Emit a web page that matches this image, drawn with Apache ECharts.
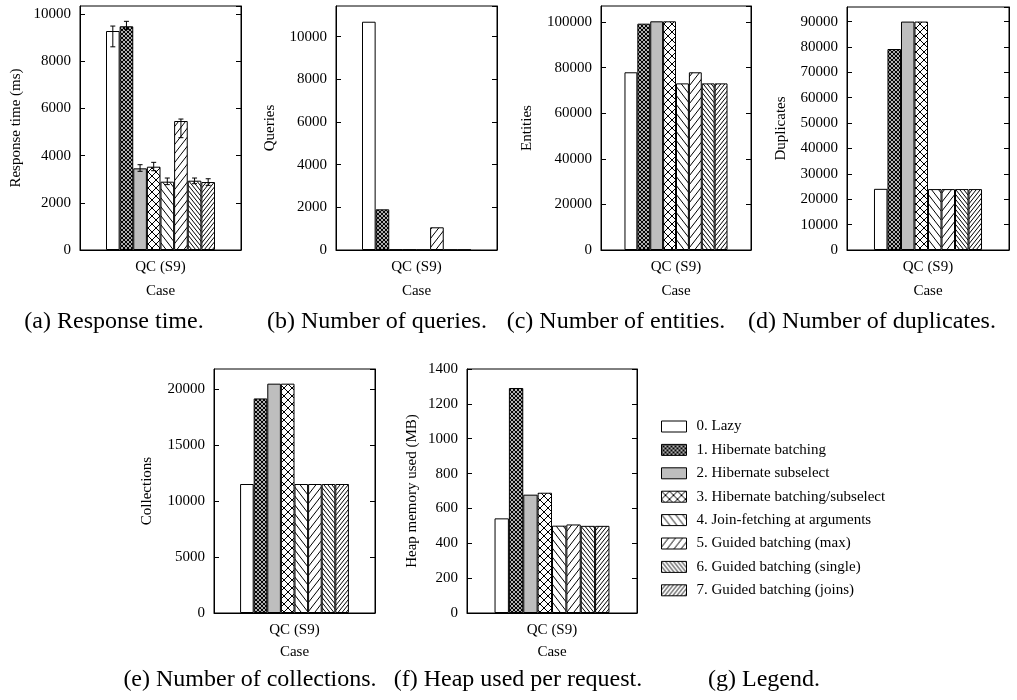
<!DOCTYPE html>
<html><head><meta charset="utf-8">
<script src="https://cdn.jsdelivr.net/npm/echarts@6/dist/echarts.min.js"></script>
<style>html,body{margin:0;padding:0;background:#fff}#c{width:1017px;height:700px}</style>
</head><body><div id="c"></div>
<script>
// ---------- data ----------
const seriesNames = ['0. Lazy', '1. Hibernate batching', '2. Hibernate subselect', '3. Hibernate batching/subselect',
  '4. Join-fetching at arguments', '5. Guided batching (max)', '6. Guided batching (single)', '7. Guided batching (joins)'];
const category = ['QC (S9)'];
const responseTime = [9280, 9480, 3460, 3530, 2895, 5466, 2937, 2880];
const responseErrLow = [8610, 9350, 3335, 3360, 2770, 4760, 2810, 2740];
const responseErrHigh = [9490, 9690, 3615, 3715, 3050, 5550, 3050, 3020];
const queries = [10700, 1906, 15, 15, 5, 1064, 10, 10];
const entities = [77940, 99270, 100300, 100300, 73080, 77940, 73080, 73080];
const duplicates = [24100, 79200, 90000, 90000, 24000, 24000, 24000, 24000];
const collections = [11520, 19160, 20480, 20480, 11520, 11520, 11520, 11520];
const heap = [543, 1291, 679, 690, 501, 508, 500, 500];
const captions = ['(a) Response time.', '(b) Number of queries.', '(c) Number of entities.', '(d) Number of duplicates.',
  '(e) Number of collections.', '(f) Heap used per request.', '(g) Legend.'];

// ---------- patterns ----------
function pat(type) {
  const dims = {fineCross:[4,4], bigCross:[8,8], back:[7,9], fwd:[7,9], backDense:[4,5], fwdDense:[4,5]};
  const [w, h] = dims[type];
  const c = document.createElement('canvas');
  c.width = w; c.height = h;
  const g = c.getContext('2d');
  g.fillStyle = '#fff'; g.fillRect(0, 0, w, h);
  g.strokeStyle = '#000'; g.lineWidth = type === 'fineCross' ? 1.2 : 1;
  const back = () => { for (const s of [-w, 0, w]) { g.beginPath(); g.moveTo(s - w, -h); g.lineTo(s + 2 * w, 2 * h); g.stroke(); } };
  const fwd = () => { for (const s of [-w, 0, w]) { g.beginPath(); g.moveTo(s - w, 2 * h); g.lineTo(s + 2 * w, -h); g.stroke(); } };
  if (type === 'fineCross' || type === 'bigCross') { back(); fwd(); }
  else if (type.startsWith('back')) back(); else fwd();
  return {image: c, repeat: 'repeat'};
}
const fills = ['#ffffff', pat('fineCross'), '#bebebe', pat('bigCross'), pat('back'), pat('fwd'), pat('backDense'), pat('fwdDense')];

const FONT = 'Liberation Serif';
const txt = {color: '#000', fontFamily: FONT, fontSize: 15};

const panels = [
  {data: responseTime, yName: 'Response time (ms)', left: 80, top: 6, width: 161, height: 244, max: 10340, interval: 2000, nameGap: 56, gap: 0.323, xNameGap: 34},
  {data: queries, yName: 'Queries', left: 336, top: 6, width: 161, height: 244, max: 11437, interval: 2000, nameGap: 58, gap: 0.323, xNameGap: 34},
  {data: entities, yName: 'Entities', left: 601, top: 6, width: 150, height: 244, max: 107017, interval: 20000, nameGap: 66, gap: 0.313, xNameGap: 34},
  {data: duplicates, yName: 'Duplicates', left: 847, top: 7, width: 162, height: 243, max: 95750, interval: 10000, nameGap: 58, gap: 0.333, xNameGap: 34},
  {data: collections, yName: 'Collections', left: 214, top: 369, width: 161, height: 244, max: 21790, interval: 5000, nameGap: 59, gap: 0.324, xNameGap: 32},
  {data: heap, yName: 'Heap memory used (MB)', left: 467, top: 369, width: 170, height: 244, max: 1400, interval: 200, nameGap: 47, gap: 0.324, xNameGap: 32}
];

const grid = [], xAxis = [], yAxis = [], series = [];
panels.forEach((p, i) => {
  grid.push({left: p.left, top: p.top, width: p.width, height: p.height, show: true, borderColor: '#000', borderWidth: 1, backgroundColor: 'transparent'});
  xAxis.push({gridIndex: i, type: 'category', data: category,
    axisLine: {lineStyle: {color: '#000', width: 1}}, axisTick: {show: false},
    axisLabel: Object.assign({margin: 10}, txt),
    name: 'Case', nameLocation: 'middle', nameGap: p.xNameGap, nameTextStyle: txt});
  const aligned = p.max % p.interval === 0;
  yAxis.push({gridIndex: i, type: 'value', min: 0, max: p.max, interval: p.interval,
    axisLine: {show: true, lineStyle: {color: '#000', width: 1}},
    axisTick: {show: true, inside: true, length: 5, lineStyle: {color: '#000'}},
    axisLabel: Object.assign({margin: 9, showMaxLabel: aligned, formatter: v => String(v)}, txt),
    splitLine: {show: false},
    name: p.yName, nameLocation: 'middle', nameGap: p.nameGap, nameTextStyle: txt});
  yAxis.push({gridIndex: i, type: 'value', min: 0, max: p.max, interval: p.interval, position: 'right',
    axisLine: {show: true, lineStyle: {color: '#000', width: 1}},
    axisTick: {show: true, inside: true, length: 5, lineStyle: {color: '#000'}},
    axisLabel: {show: false}, splitLine: {show: false}});
  seriesNames.forEach((n, j) => {
    series.push({type: 'bar', name: n, xAxisIndex: i, yAxisIndex: 2 * i, data: [p.data[j]],
      barGap: '0%', barCategoryGap: (p.gap * 100) + '%',
      itemStyle: {color: fills[j], borderColor: '#000', borderWidth: 1}, silent: true});
  });
});

// error bars on panel (a)
const gapA = panels[0].gap;
series.push({type: 'custom', xAxisIndex: 0, yAxisIndex: 0, z: 10, silent: true,
  data: responseTime.map((v, j) => [0, responseErrLow[j], responseErrHigh[j], j]),
  encode: {x: 0, y: [1, 2]},
  renderItem: (params, api) => {
    const lo = api.coord([0, api.value(1)]);
    const hi = api.coord([0, api.value(2)]);
    const band = api.size([1, 0])[0];
    const bw = band * (1 - gapA) / 8;
    const x = lo[0] + (api.value(3) - 3.5) * bw;
    const st = {stroke: '#000', lineWidth: 1};
    return {type: 'group', children: [
      {type: 'line', shape: {x1: x, y1: lo[1], x2: x, y2: hi[1]}, style: st},
      {type: 'line', shape: {x1: x - 2.5, y1: lo[1], x2: x + 2.5, y2: lo[1]}, style: st},
      {type: 'line', shape: {x1: x - 2.5, y1: hi[1], x2: x + 2.5, y2: hi[1]}, style: st}
    ]};
  }});

const capPos = [[114, 322], [377, 322], [616, 322], [872, 322], [250, 680], [518, 680], [764, 680]];
const graphic = captions.map((t, k) => ({type: 'text', x: capPos[k][0], y: capPos[k][1],
  style: {text: t, fill: '#000', font: '24px "Liberation Serif"', textAlign: 'center', textVerticalAlign: 'middle'}}));

const chart = echarts.init(document.getElementById('c'), null, {renderer: 'canvas'});
chart.setOption({
  animation: false,
  backgroundColor: '#fff',
  grid, xAxis, yAxis, series, graphic,
  legend: {data: seriesNames, orient: 'vertical', left: 661, top: 419, itemWidth: 25, itemHeight: 11, itemGap: 8.4,
    icon: 'rect', selectedMode: false, padding: 0,
    itemStyle: {borderColor: '#000', borderWidth: 1},
    textStyle: Object.assign({padding: [0, 0, 0, 5]}, txt)}
});
</script></body></html>
